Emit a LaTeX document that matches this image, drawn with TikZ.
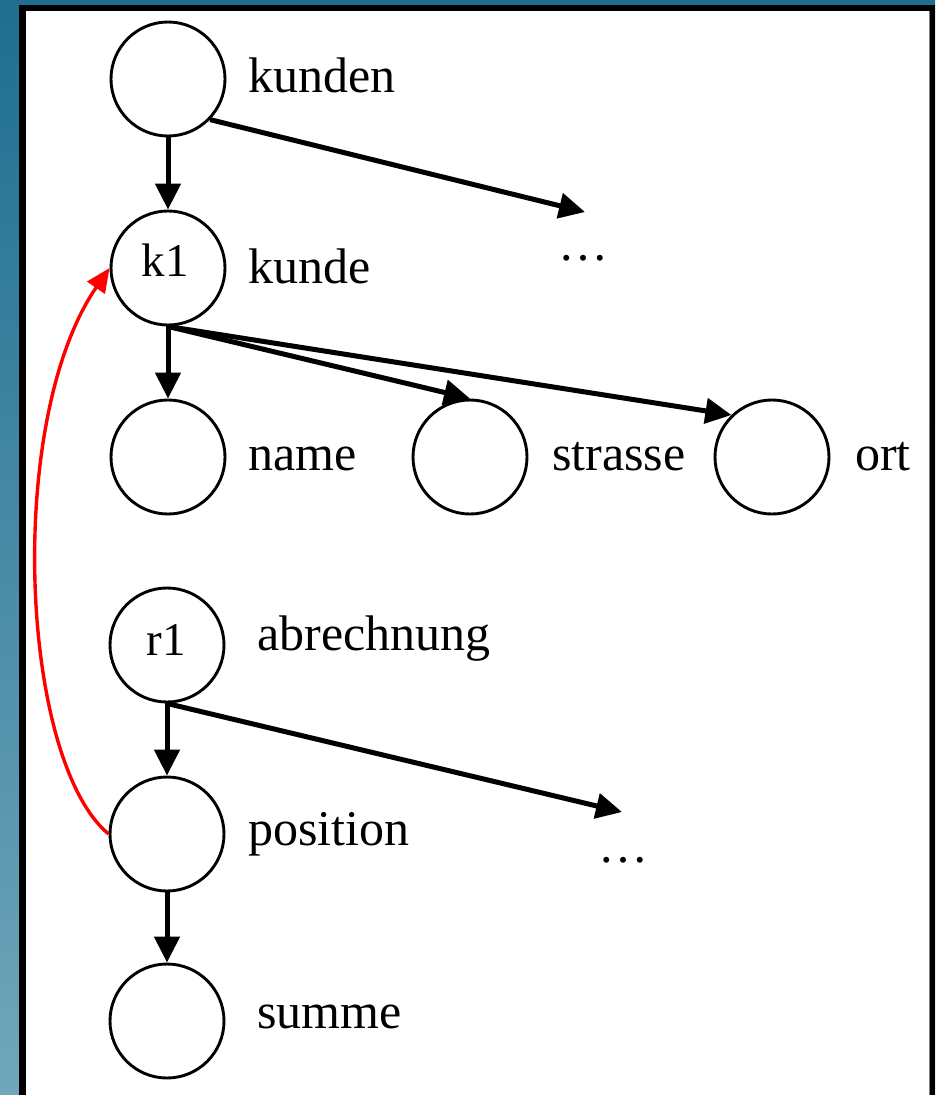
\documentclass[tikz,border=0pt]{standalone}
\usepackage{fontspec}
\setmainfont{Liberation Serif}
\usetikzlibrary{arrows.meta}
\definecolor{bgtop}{RGB}{31,110,144}
\definecolor{bgbot}{RGB}{112,166,186}
\begin{document}
\begin{tikzpicture}[x=1pt,y=-1pt,
  nd/.style={circle,draw,line width=2.9pt,minimum size=114pt,inner sep=0pt},
  lbl/.style={anchor=base west,inner sep=0pt,font=\fontsize{50}{60}\selectfont},
  inlbl/.style={anchor=base,inner sep=0pt,font=\fontsize{47}{56}\selectfont},
  edge/.style={line width=5pt,-{Triangle[length=26pt,width=25pt]}},
  back/.style={red,line width=3.4pt,-{Triangle[length=24pt,width=21pt]}}]
\useasboundingbox (0,0) rectangle (935,1095);
\shade[top color=bgtop,bottom color=bgbot] (0,0) rectangle (935,1095);
\fill[black] (19,5) rectangle (935,1095);
\fill[white] (26,11) rectangle (929,1095);
\draw[gray,line width=1pt] (929.5,11) -- (929.5,1095);

\node[nd] (kunden) at (168,79) {};
\node[nd] (kunde) at (168,268) {};
\node[nd] (name) at (168,457) {};
\node[nd] (strasse) at (470,457) {};
\node[nd] (ort) at (772,457) {};
\node[nd] (r1) at (167,645) {};
\node[nd] (position) at (167,834) {};
\node[nd] (summe) at (167,1021) {};

\node[inlbl] (tk1) at (165,276) {k1};
\node[inlbl] (tr1) at (166,655) {r1};

\node[lbl] (tkunden) at (248,92) {kunden};
\node[lbl] (tkunde) at (248,283) {kunde};
\node[lbl] (tname) at (248,470) {name};
\node[lbl] (tstrasse) at (552,470) {strasse};
\node[lbl] (tort) at (855,470) {ort};
\node[lbl] (tabr) at (257,650) {abrechnung};
\node[lbl] (tpos) at (248,845) {position};
\node[lbl] (tsum) at (257,1028) {summe};
\node[lbl] (dots1) at (558,260) {…};
\node[lbl] (dots2) at (598,862) {…};

\coordinate (e1) at (585,212);
\coordinate (e2) at (622,812);
\draw[edge] (kunden) -- (kunde);
\draw[edge] (kunden.-44) -- (e1);
\draw[edge] (kunde) -- (name);
\draw[edge] (kunde.south) -- (strasse.north);
\draw[edge] (kunde.south) -- (ort.134);
\draw[edge] (r1) -- (position);
\draw[edge] (r1.south) -- (e2);
\draw[edge] (position) -- (summe);
\draw[back] (position.west) .. controls (20,760) and (5,420) .. (kunde.west);
\end{tikzpicture}
\end{document}
